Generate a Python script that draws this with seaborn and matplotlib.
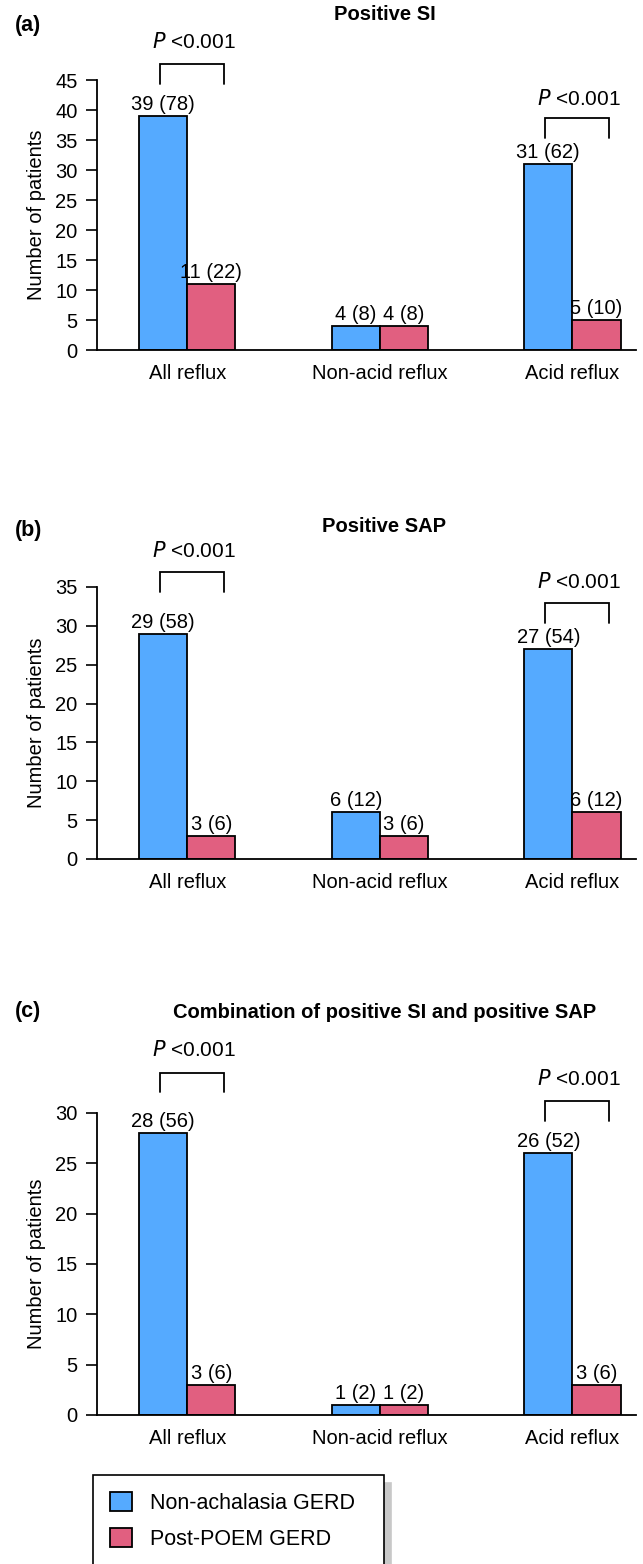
import matplotlib
matplotlib.use("Agg")
import matplotlib.pyplot as plt
from matplotlib.patches import Patch
import pandas as pd
import seaborn as sns

categories = ["All reflux", "Non-acid reflux", "Acid reflux"]
groups = ["Non-achalasia GERD", "Post-POEM GERD"]

si_nonach = [39, 4, 31]
si_poem = [11, 4, 5]
si_nonach_pct = [78, 8, 62]
si_poem_pct = [22, 8, 10]

sap_nonach = [29, 6, 27]
sap_poem = [3, 3, 6]
sap_nonach_pct = [58, 12, 54]
sap_poem_pct = [6, 6, 12]

comb_nonach = [28, 1, 26]
comb_poem = [3, 1, 3]
comb_nonach_pct = [56, 2, 52]
comb_poem_pct = [6, 2, 6]

p_text = "<0.001"

BLUE = "#55aaff"
PINK = "#e15f80"
FS = 14.5

sns.set_theme(style="white")
plt.rcParams["font.family"] = ["Liberation Sans", "DejaVu Sans"]
plt.rcParams["text.color"] = "black"
plt.rcParams["axes.labelcolor"] = "black"
plt.rcParams["xtick.color"] = "black"
plt.rcParams["ytick.color"] = "black"


def make_df(a, b):
    return pd.DataFrame({
        "cat": categories * 2,
        "group": [groups[0]] * 3 + [groups[1]] * 3,
        "n": a + b,
    })


panels = [
    # letter, title, values, pct, ymax, axes rect, letter/title offsets, brackets (cat, top, bottom, text y)
    ("(a)", "Positive SI", (si_nonach, si_poem), (si_nonach_pct, si_poem_pct),
     45, [0.151, 0.7762, 0.838, 0.1726], (0.0352, 0.0422),
     [(0, 47.7, 44.4, 51.3), (2, 38.7, 35.3, 41.9)]),
    ("(b)", "Positive SAP", (sap_nonach, sap_poem), (sap_nonach_pct, sap_poem_pct),
     35, [0.151, 0.4508, 0.838, 0.1739], (0.0364, 0.0384),
     [(0, 36.9, 34.4, 39.6), (2, 33.0, 30.4, 35.6)]),
    ("(c)", "Combination of positive SI and positive SAP", (comb_nonach, comb_poem),
     (comb_nonach_pct, comb_poem_pct), 30, [0.151, 0.0953, 0.838, 0.1931], (0.0646, 0.064),
     [(0, 34.0, 32.1, 36.3), (2, 31.2, 29.2, 33.4)]),
]

fig = plt.figure(figsize=(6.43, 15.64), dpi=100)

for letter, title, vals, pcts, ymax, rect, offs, brackets in panels:
    ax = fig.add_axes(rect)
    df = make_df(list(vals[0]), list(vals[1]))
    sns.barplot(data=df, x="cat", y="n", hue="group", hue_order=groups,
                palette=[BLUE, PINK], width=0.5, edgecolor="black",
                linewidth=1.3, saturation=1, ax=ax, legend=False)
    for cont, v, p in zip(ax.containers, vals, pcts):
        labs = [f"{a} ({b})" for a, b in zip(v, p)]
        ax.bar_label(cont, labels=labs, padding=1.5, fontsize=FS)
    ax.set_xlim(-0.468, 2.33)
    ax.set_ylim(0, ymax)
    ax.set_yticks(range(0, ymax + 1, 5))
    ax.set_xlabel("")
    ax.set_ylabel("Number of patients", fontsize=FS, labelpad=7)
    ax.tick_params(axis="y", length=8, width=1.2, labelsize=FS, pad=6, left=True)
    ax.tick_params(axis="x", length=0, labelsize=FS, pad=10)
    for s in ["top", "right"]:
        ax.spines[s].set_visible(False)
    for s in ["left", "bottom"]:
        ax.spines[s].set_color("black")
        ax.spines[s].set_linewidth(1.3)
    for ci, top, bot, ty in brackets:
        x0, x1 = ci - 0.14, ci + 0.19
        ax.plot([x0, x0, x1, x1], [bot, top, top, bot], color="black", lw=1.3,
                clip_on=False, solid_joinstyle="miter")
        ax.text((x0 + x1) / 2 + 0.01, ty, r"$\it{P}$ " + p_text, ha="center", va="center",
                fontsize=FS + 0.5, clip_on=False)
    top_frac = rect[1] + rect[3]
    fig.text(0.023, top_frac + offs[0], letter, fontsize=FS + 1, fontweight="bold",
             ha="left", va="center")
    fig.text(0.598, top_frac + offs[1], title, fontsize=FS, fontweight="bold",
             ha="center", va="center")

handles = [Patch(facecolor=BLUE, edgecolor="black", linewidth=1.3),
           Patch(facecolor=PINK, edgecolor="black", linewidth=1.3)]
leg = fig.legend(handles, groups, loc="upper left", mode="expand",
                 bbox_to_anchor=(93 / 643, 0, 291 / 643, 1 - 1475 / 1564),
                 fontsize=FS + 1, frameon=True, fancybox=False, edgecolor="black",
                 handlelength=1.0, handleheight=1.0, handletextpad=0.85,
                 labelspacing=0.65, borderpad=0.8, borderaxespad=0,
                 shadow={"ox": 5, "oy": -6, "color": "#c8c8c8", "alpha": 1})
leg.get_frame().set_linewidth(1.2)

fig.savefig("out.png", dpi=100)
